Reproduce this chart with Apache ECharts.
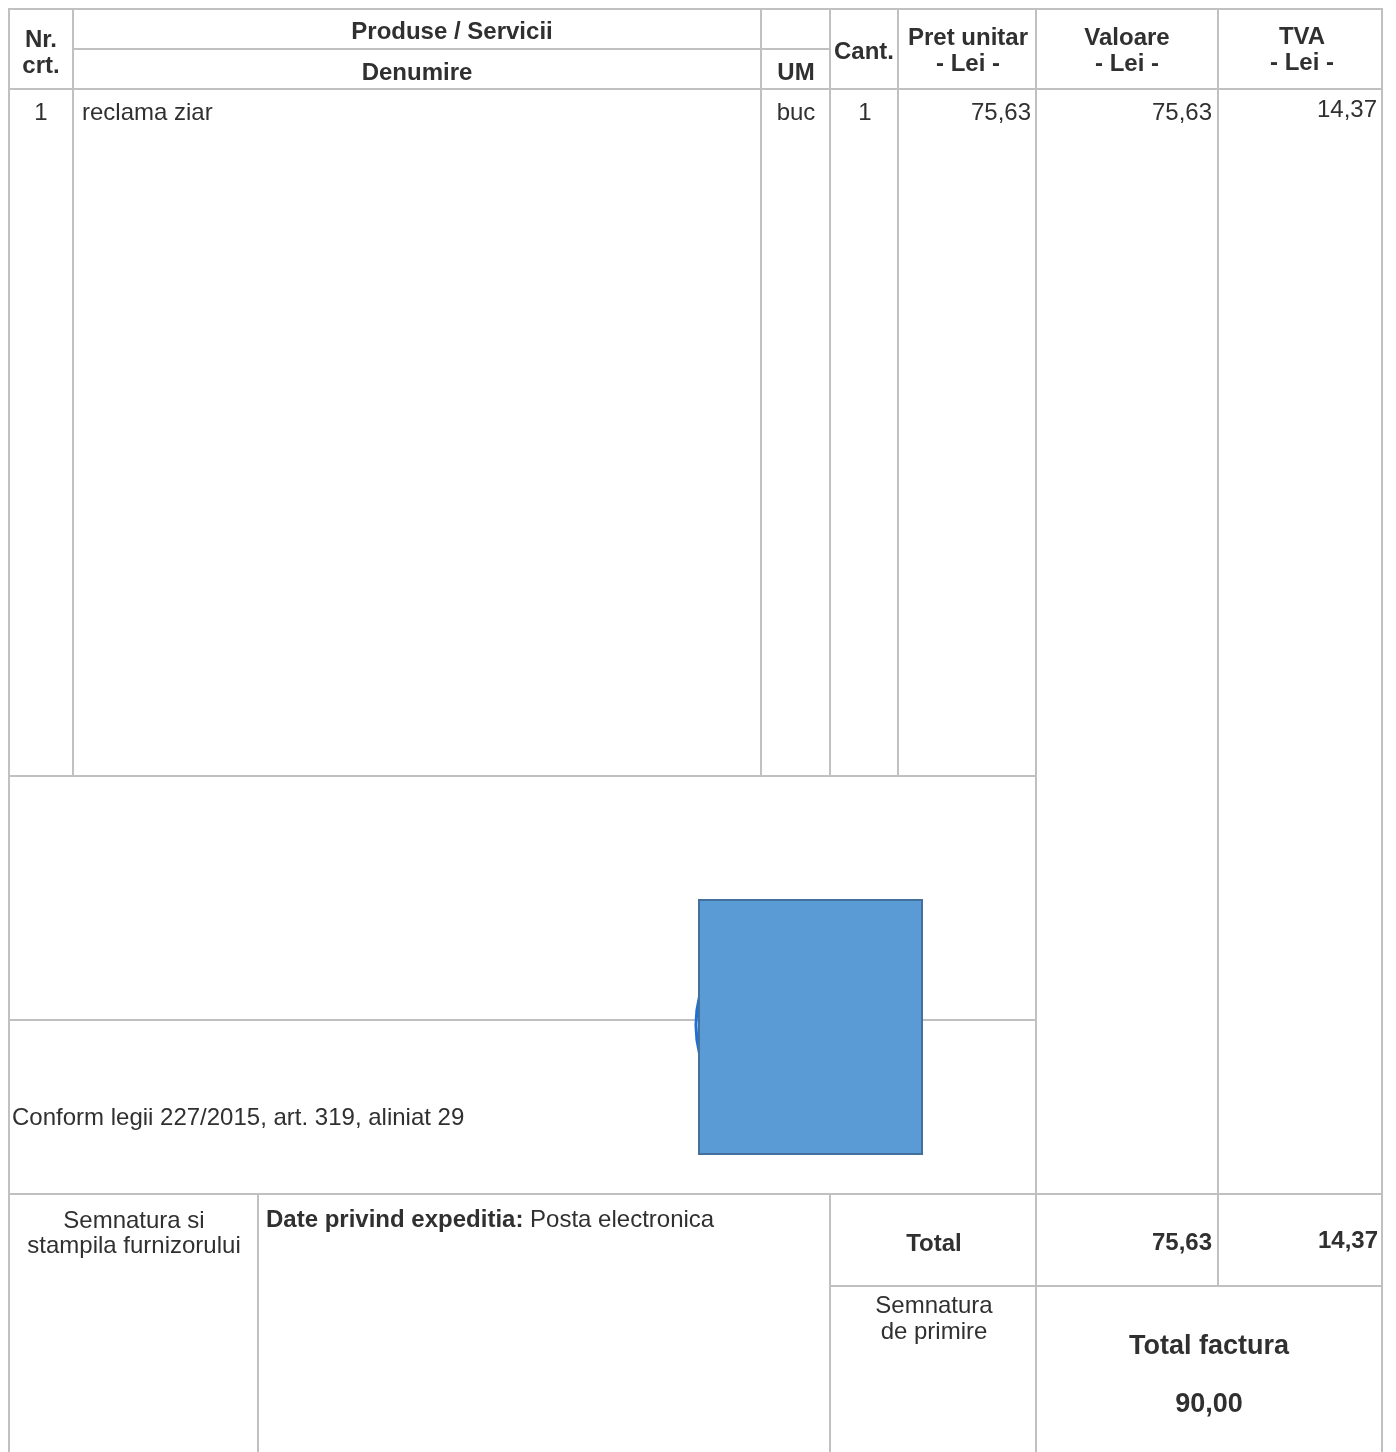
<!DOCTYPE html>
<html>
<head>
<meta charset="utf-8">
<script src="https://cdn.jsdelivr.net/npm/echarts@6/dist/echarts.min.js"></script>
<style>
html,body{margin:0;padding:0;background:#fff;}
#chart{width:1396px;height:1452px;}
</style>
</head>
<body>
<div id="chart"></div>
<script>
// ---------- DATA ----------
const headerTitles = ['Nr.\ncrt.', 'Produse / Servicii', 'Denumire', 'UM', 'Cant.', 'Pret unitar\n- Lei -', 'Valoare\n- Lei -', 'TVA\n- Lei -'];
const itemNumbers = [1];
const itemNames = ['reclama ziar'];
const itemUnits = ['buc'];
const itemQuantities = [1];
const itemUnitPrices = [75.63];
const itemValues = [75.63];
const itemVat = [14.37];
const totalLabel = 'Total';
const totalValues = [75.63, 14.37];
const invoiceTotalLabel = 'Total factura';
const invoiceTotal = [90.00];
const legalNote = 'Conform legii 227/2015, art. 319, aliniat 29';
const supplierSign = 'Semnatura si\nstampila furnizorului';
const shippingLabel = 'Date privind expeditia:';
const shippingValue = 'Posta electronica';
const receiptSign = 'Semnatura\nde primire';

// ---------- LAYOUT ----------
const W = 1396, H = 1452;
const C = [9, 73, 761, 830, 898, 1036, 1218, 1382];     // column edges
const R = {top: 9, sub: 49, head: 89, body: 776, mid: 1020, foot: 1194, tot: 1286, bottom: 1452};
const hLines = [
  [C[0], C[7], R.top], [C[1], C[3], R.sub], [C[0], C[7], R.head],
  [C[0], C[5], R.body], [C[0], C[5], R.mid], [C[0], C[7], R.foot], [C[3], C[7], R.tot]
];
const vLines = [
  [C[0], R.top, R.bottom], [C[1], R.top, R.body], [C[2], R.top, R.body], [C[3], R.top, R.body],
  [C[4], R.top, R.body], [C[5], R.top, R.bottom], [C[6], R.top, R.tot], [C[7], R.top, R.bottom],
  [258, R.foot, R.bottom], [C[3], R.foot, R.bottom]
];
const headerPos = [
  [41, 51, 'center', true], [452, 30, 'center', true], [417, 71, 'center', true], [796, 71, 'center', true],
  [864, 50, 'center', true], [968, 49, 'center', true], [1127, 49, 'center', true], [1302, 48, 'center', true]
];
const rowTop = 111, rowStep = 30;
const DY = 2;
const FONT = '"Liberation Sans", Arial, sans-serif';
const INK = '#303030';
const GRIDC = '#c0c0c0';

const fmt = v => v.toFixed(2).replace('.', ',');

function txt(api, x, y, text, opts) {
  const p = api.coord([x, y + DY]);
  opts = opts || {};
  return {
    type: 'text', x: p[0], y: p[1],
    style: {
      text: text,
      fill: INK,
      font: (opts.bold ? 'bold ' : '') + (opts.size || 24) + 'px ' + FONT,
      textAlign: opts.align || 'left',
      textVerticalAlign: 'middle',
      lineHeight: opts.lh || 26,
      rich: opts.rich
    }
  };
}

const chart = echarts.init(document.getElementById('chart'), null, {renderer: 'canvas'});
chart.setOption({
  backgroundColor: '#ffffff',
  animation: false,
  grid: {left: 0, right: 0, top: 0, bottom: 0, containLabel: false},
  xAxis: {type: 'value', min: 0, max: W, show: false},
  yAxis: {type: 'value', min: 0, max: H, inverse: true, show: false},
  series: [
    { // table rules
      type: 'custom', silent: true, data: [0],
      renderItem: (params, api) => {
        const ch = [];
        hLines.forEach(l => {
          const a = api.coord([l[0], l[2]]), b = api.coord([l[1], l[2]]);
          ch.push({type: 'line', shape: {x1: a[0] - 1, y1: a[1], x2: b[0] + 1, y2: b[1]}, style: {stroke: GRIDC, lineWidth: 2}});
        });
        vLines.forEach(l => {
          const a = api.coord([l[0], l[1]]), b = api.coord([l[0], l[2]]);
          ch.push({type: 'line', shape: {x1: a[0], y1: a[1] - 1, x2: b[0], y2: b[1] + 1}, style: {stroke: GRIDC, lineWidth: 2}});
        });
        return {type: 'group', children: ch};
      }
    },
    { // stamp placeholder
      type: 'custom', silent: true, data: [0],
      renderItem: (params, api) => {
        const c = api.coord([817, 1025]);
        const a = api.coord([699, 900]), b = api.coord([922, 1154]);
        return {type: 'group', children: [
          {type: 'arc', shape: {cx: c[0], cy: c[1], r: 121, startAngle: Math.PI - 0.25, endAngle: Math.PI + 0.25}, style: {stroke: '#1f6fd6', lineWidth: 3, fill: null}},
          {type: 'rect', shape: {x: a[0], y: a[1], width: b[0] - a[0], height: b[1] - a[1]}, style: {fill: '#5B9BD5', stroke: '#41719C', lineWidth: 2}}
        ]};
      }
    },
    { // header texts
      type: 'custom', silent: true, data: headerTitles.map((t, i) => i),
      renderItem: (params, api) => {
        const i = params.dataIndex, p = headerPos[i];
        return txt(api, p[0], p[1], headerTitles[i], {bold: p[3], align: p[2]});
      }
    },
    { // item rows
      type: 'custom', silent: true, data: itemNames.map((n, i) => i),
      renderItem: (params, api) => {
        const i = params.dataIndex, y = rowTop + i * rowStep;
        return {type: 'group', children: [
          txt(api, 41, y, String(itemNumbers[i]), {align: 'center'}),
          txt(api, 82, y, itemNames[i]),
          txt(api, 796, y, itemUnits[i], {align: 'center'}),
          txt(api, 865, y, String(itemQuantities[i]), {align: 'center'}),
          txt(api, 1031, y, fmt(itemUnitPrices[i]), {align: 'right'}),
          txt(api, 1212, y, fmt(itemValues[i]), {align: 'right'}),
          txt(api, 1377, y - 3, fmt(itemVat[i]), {align: 'right'})
        ]};
      }
    },
    { // footer texts
      type: 'custom', silent: true, data: [0],
      renderItem: (params, api) => ({type: 'group', children: [
        txt(api, 12, 1116, legalNote),
        txt(api, 134, 1232, supplierSign, {align: 'center', lh: 25}),
        txt(api, 266, 1218, '{b|' + shippingLabel + '} ' + shippingValue, {rich: {b: {fontWeight: 'bold', fontSize: 24, fontFamily: FONT, fill: INK}}}),
        txt(api, 934, 1242, totalLabel, {bold: true, align: 'center'}),
        txt(api, 1212, 1241, fmt(totalValues[0]), {bold: true, align: 'right'}),
        txt(api, 1378, 1239, fmt(totalValues[1]), {bold: true, align: 'right'}),
        txt(api, 934, 1317, receiptSign, {align: 'center', lh: 26}),
        txt(api, 1209, 1345, invoiceTotalLabel, {bold: true, align: 'center', size: 27}),
        txt(api, 1209, 1403, fmt(invoiceTotal[0]), {bold: true, align: 'center', size: 27})
      ]})
    }
  ]
});
</script>
</body>
</html>
